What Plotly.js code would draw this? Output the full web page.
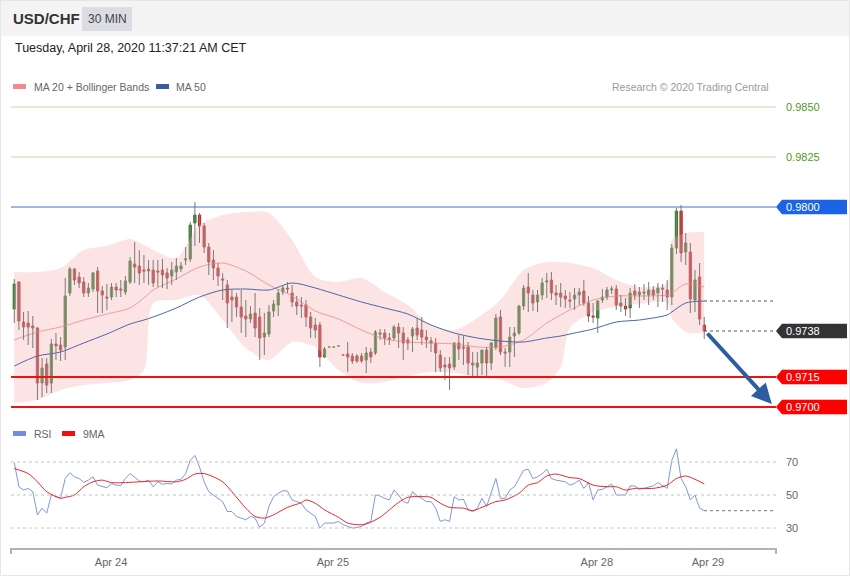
<!DOCTYPE html>
<html><head><meta charset="utf-8">
<script src="https://cdn.plot.ly/plotly-3.0.1.min.js"></script>
<style>html,body{margin:0;padding:0;background:#fff;}#chart{width:850px;height:576px;}</style>
</head><body><div id="chart"></div>
<script>
// ---- Price data (USD/CHF, 30 min candles) ----
const open=[.9749,.97625,.97425,.9742,.97405,.97395,.9712,.97215,.9712,.97315,
.9731,.9730,.9757,.9769,.9765,.97625,.9757,.9759,.9768,.9758,
.9755,.9755,.9760,.9759,.97575,.97625,.97715,.97705,.97685,.9768,
.97685,.9768,.97685,.9767,.97655,.97675,.9769,.97735,.9774,.9792,
.9796,.97905,.9780,.97735,.97695,.9764,.9761,.9755,.9755,.9750,
.97455,.9744,.9747,.9745,.9735,.97365,.9748,.9751,.97575,.97595,
.9757,.97525,.9751,.9751,.9745,.9741,.9741,.9725,.9730,.9730,
.97305,.9726,.97265,.97255,.97255,.97255,.97235,.97275,.9727,.9737,
.9737,.97345,.97345,.9740,.9737,.97335,.97355,.97395,.97385,.9735,
.9733,.9732,.9726,.9721,.97215,.9720,.9732,.9730,.9730,.9722,
.9720,.9722,.97285,.9722,.9730,.9745,.97275,.97275,.97355,.9737,
.97505,.9760,.9756,.97525,.9756,.97625,.97635,.9757,.9757,.97555,
.97535,.9754,.9756,.9758,.9752,.97455,.97445,.97535,.9755,.97585,
.9759,.9752,.97505,.97495,.9758,.9756,.97575,.9756,.97585,.9757,
.97595,.97585,.9755,.97795,.9798,.97775,.97775,.97535,.9765,.9741];
const high=[.9764,.9763,.97475,.9748,.97455,.9740,.97245,.97245,.9734,.9737,
.9735,.97645,.9770,.97695,.97675,.9765,.9762,.97675,.9770,.97605,
.97615,.9762,.9762,.97635,.97655,.9775,.97825,.97785,.9776,.97735,
.97735,.97735,.9774,.97695,.97725,.97745,.97725,.9780,.97925,.98025,
.9797,.9792,.9782,.97785,.9772,.9767,.97635,.97585,.9757,.97585,
.97535,.97505,.9757,.97495,.9747,.9751,.97535,.9759,.9761,.97625,
.9761,.97555,.9755,.97535,.97475,.97445,.97425,.9730,.9730,.9730,
.97305,.9726,.97325,.9727,.97265,.9727,.9730,.97295,.97385,.9739,
.9739,.9737,.9741,.9742,.9740,.9735,.9740,.97445,.9745,.97385,
.9735,.97345,.97285,.9725,.9725,.97325,.9736,.97355,.97325,.97275,
.97275,.97285,.9730,.97325,.97465,.97485,.97295,.9740,.9740,.9751,
.9761,.9767,.97585,.97585,.97645,.9767,.97675,.9761,.9762,.97585,
.97575,.97595,.97595,.97635,.97555,.9752,.97535,.9759,.9760,.97605,
.9761,.9756,.97545,.97595,.97615,.9760,.97615,.97625,.97605,.9762,
.97615,.97635,.97815,.97995,.9801,.9787,.9782,.97685,.9772,.9745];
const low=[.9742,.97385,.97335,.9731,.97295,.97035,.9705,.9707,.9707,.97235,
.9723,.97235,.97555,.9761,.97595,.9755,.9755,.97575,.9747,.9747,
.97485,.97535,.9755,.9755,.9756,.97615,.9762,.9761,.9762,.9761,
.9760,.9760,.97595,.9759,.9761,.97635,.97675,.9771,.97725,.97805,
.9782,.9777,.9766,.97635,.97605,.97535,.97395,.97425,.9745,.9737,
.9735,.9742,.9735,.97235,.9726,.9735,.9745,.97455,.9756,.9757,
.9750,.9746,.97445,.9740,.97345,.97345,.9720,.97245,.9730,.9730,
.97305,.9726,.97175,.97215,.9722,.9722,.9717,.9722,.9726,.97335,
.9731,.9731,.97335,.97295,.97235,.97285,.97275,.97335,.9731,.97295,
.97275,.97175,.97175,.97135,.97085,.97185,.97235,.9721,.9716,.97145,
.97145,.9716,.97155,.97185,.97285,.9726,.9720,.9720,.9725,.9736,
.97485,.97475,.9748,.97475,.97535,.97545,.97535,.9751,.9750,.97495,
.97495,.97485,.9751,.97505,.97425,.9742,.9737,.9752,.97535,.97565,
.97485,.97475,.97455,.97445,.97535,.97495,.97535,.9751,.97535,.9750,
.97525,.97485,.9751,.97765,.97725,.9771,.9747,.97475,.9741,.9734];
const close=[.97615,.9743,.9740,.9740,.97395,.9712,.97195,.9711,.97315,.97305,
.97285,.97555,.9769,.97635,.9762,.9757,.97595,.9767,.9758,.9756,
.97545,.9760,.97585,.97585,.9763,.9773,.9770,.9767,.9768,.9769,
.9762,.97675,.9766,.97645,.97685,.97705,.97705,.9774,.9791,.9796,
.97905,.9780,.97725,.97695,.97655,.97635,.9752,.97535,.9750,.9745,
.9744,.97465,.97395,.97345,.9737,.97475,.97515,.9757,.97595,.9759,
.97525,.97505,.97505,.9745,.97395,.97385,.9725,.9729,.9730,.9730,
.97305,.9726,.9725,.9723,.9723,.9723,.9727,.9725,.97375,.97365,
.97345,.9734,.9740,.9737,.9732,.9732,.9739,.9736,.9735,.97335,
.9732,.9727,.97195,.9720,.97195,.9732,.9729,.97295,.9722,.9721,
.9722,.97285,.9722,.9732,.97445,.97275,.9727,.9735,.9737,.97505,
.97595,.9757,.9752,.9756,.9762,.9763,.9757,.9756,.9755,.9754,
.9753,.9756,.97575,.9752,.97455,.9745,.9753,.9755,.97585,.9759,
.9751,.97505,.9749,.9757,.9756,.97575,.9757,.97585,.9756,.97595,
.9759,.9755,.97795,.9798,.9777,.9782,.9754,.97635,.9744,.9738];

const bandIdx=[0,5,10,15,20,25,28,30,35,40,45,50,55,60,65,70,75,80,85,90,95,100,105,110,115,118,120,125,130,135,141,142,145,149];
const bbUpper=[.97675,.97675,.97695,.97785,.97805,.9784,.9781,.97785,.97745,.9791,.9796,.97975,.9797,.97835,.9765,.97625,.97645,.97575,.9751,.9741,.97385,.97445,.97535,.97685,.97725,.97725,.9772,.97695,.97635,.9760,.9762,.97835,.9787,.97875];
const bbLower=[.9702,.97035,.97085,.9711,.9712,.97135,.97185,.9752,.97535,.9756,.97435,.97295,.97235,.97325,.9730,.97185,.9712,.97125,.97155,.97175,.9717,.9715,.97135,.97095,.9712,.9720,.97395,.97475,.9750,.97515,.9752,.97445,.97375,.9737];
const ma20=[.97335,.97375,.974,.97435,.97465,.97495,.97545,.97585,.9764,.9770,.9772,.9768,.9761,.97555,.9748,.9744,.97385,.9734,.97325,.9732,.97315,.9730,.9730,.97335,.9742,.9746,.97485,.97535,.97555,.97555,.9756,.9757,.97615,.9760];
const ma50=[.97205,.97255,.97275,.9732,.97365,.97415,.97435,.9745,.97495,.9755,.97585,.9759,.97585,.9762,.97595,.9756,.97525,.97495,.97465,.9741,.9737,.97345,.9733,.97325,.97345,.97355,.97365,.9739,.97425,.97435,.9746,.97475,.9752,.9753];

const rsi=[69.6,55,53,54,52,38,42,39,50,49.4,48,60,63.5,61,60,57.7,59,61,56,55,
54.4,57,56,55.7,60,63,61,58.5,58,59,55,58,56.5,57,56.7,59,59.5,63,71,74,
67,58,52,50,48,46,40,40,37,36,35,37,36,30.4,33,43,49,51,52.6,52.4,
47,46,45,41,39,37,30,33,33,33,34,32,31,30,30.3,31,33,34,50,49.4,
48,47,53,50,46,45,52,49.5,48,46,46,42,34,35,34,49,47,47.4,41,40,
42,48,43,52,60,48,48,53,55,60,65,65.6,60,61,63,65.6,60,59,58.5,58,
56,57,59,54,57.5,47,53,53.4,55,56.7,50,50,50,55.5,55.5,53.4,54,55,55.5,57.5,
56,54,71,78,60,55,47,50,42,40.5];
const rsiMaIdx=[0,3,5,7,10,11,13,15,17,19,21,24,27,31,35,37,39,41,43,45,47,50,52,54,56,59,62,63,65,67,70,72,74,76,79,81,83,85,88,90,92,94,97,99,101,104,106,109,111,113,115,117,120,122,125,128,130,132,134,138,141,143,145,147,149];
const rsiMa=[66,63,58,52,48,48.6,50,55,58,59,57.5,57.5,58,58.5,58,59.5,62.7,63,61,58,52,42,37,36,38,42.5,45.4,47,45,41,36.5,33,32,32.4,36.5,41,45.5,48.6,49,48.6,45,42.5,42,40.5,42.5,46,47,51,56,57.5,61.5,62.7,60.5,60,56,55,55,53,54,54,56,60,61.5,59.5,56.7];

const levels=[0.9850,0.9825,0.9800,0.9738,0.9715,0.9700];
const tickLabels=['Apr 24','Apr 25','Apr 28','Apr 29'];
const tickIdx=[20.9,68.8,125.8,149.8];
const rsiLevels=[70,50,30];
const target={fromIdx:149.4,fromPrice:0.97375,toIdx:163.6,toPrice:0.97015};

// ---- build ----
const N=close.length;
const idx=close.map((_,i)=>i);
const wx=[],wy=[];
for(let i=0;i<N;i++){wx.push(i,i,null);wy.push(low[i],high[i],null);}
const bHi=open.map((o,i)=>Math.max(o,close[i]));
const bLo=open.map((o,i)=>Math.min(o,close[i]));

const P=x=>x/850, Q=y=>1-y/576;
const X0=P(11), X1=P(776);
const FONT='Liberation Sans, Arial, sans-serif';
const GREEN='#2f7d22', RED='#d7191c';

const traces=[
 {x:bandIdx,y:bbUpper,type:'scatter',mode:'lines',line:{width:0,shape:'spline',smoothing:0.8},hoverinfo:'skip',xaxis:'x',yaxis:'y'},
 {x:bandIdx,y:bbLower,type:'scatter',mode:'lines',line:{width:0,shape:'spline',smoothing:0.8},fill:'tonexty',fillcolor:'rgba(250,190,190,0.42)',hoverinfo:'skip',xaxis:'x',yaxis:'y'},
 {x:bandIdx,y:ma20,type:'scatter',mode:'lines',line:{width:1,color:'#f29a9a',shape:'spline',smoothing:0.8},hoverinfo:'skip',xaxis:'x',yaxis:'y'},
 {x:bandIdx,y:ma50,type:'scatter',mode:'lines',line:{width:1,color:'#4a66a8',shape:'spline',smoothing:0.8},hoverinfo:'skip',xaxis:'x',yaxis:'y'},
 {x:wx,y:wy,type:'scatter',mode:'lines',line:{width:1,color:'#7a7a7a'},hoverinfo:'skip',xaxis:'x',yaxis:'y',connectgaps:false},
 {x:idx,open:open,high:bHi,low:bLo,close:close,type:'candlestick',whiskerwidth:0,
  increasing:{line:{color:GREEN,width:1},fillcolor:GREEN},
  decreasing:{line:{color:RED,width:1},fillcolor:RED},hoverinfo:'skip',xaxis:'x',yaxis:'y'},
 {x:idx,y:rsi,type:'scatter',mode:'lines',line:{width:1,color:'#7d98dc'},hoverinfo:'skip',xaxis:'x',yaxis:'y2'},
 {x:rsiMaIdx,y:rsiMa,type:'scatter',mode:'lines',line:{width:1,color:'#e8262b',shape:'spline',smoothing:0.8},hoverinfo:'skip',xaxis:'x',yaxis:'y2'}
];

const shapes=[];
const ann=[];
// header
shapes.push({type:'rect',xref:'paper',yref:'paper',x0:0,x1:1,y0:Q(36),y1:1,fillcolor:'#f4f4f4',line:{width:0},layer:'below'});
shapes.push({type:'rect',xref:'paper',yref:'paper',x0:P(82),x1:P(132),y0:Q(31),y1:Q(7),fillcolor:'#dcdde2',line:{width:0},layer:'below'});
shapes.push({type:'rect',xref:'paper',yref:'paper',x0:P(0.5),x1:P(849.5),y0:Q(575.5),y1:Q(0.5),line:{width:1,color:'#e6e6e6'},layer:'below'});
ann.push({xref:'paper',yref:'paper',x:P(11),y:Q(18),xanchor:'left',yanchor:'middle',text:'<b>USD/CHF</b>',showarrow:false,font:{size:15,color:'#333',family:FONT}});
ann.push({xref:'paper',yref:'paper',x:P(107),y:Q(19),xanchor:'center',yanchor:'middle',text:'30 MIN',showarrow:false,font:{size:12,color:'#444',family:FONT}});
ann.push({xref:'paper',yref:'paper',x:P(13),y:Q(48),xanchor:'left',yanchor:'middle',text:'Tuesday, April 28, 2020 11:37:21 AM CET',showarrow:false,font:{size:12.5,color:'#222',family:FONT}});
// legends
shapes.push({type:'rect',xref:'paper',yref:'paper',x0:P(13),x1:P(26),y0:Q(89),y1:Q(84),fillcolor:'#f28a8a',line:{width:0}});
shapes.push({type:'rect',xref:'paper',yref:'paper',x0:P(156),x1:P(169),y0:Q(89),y1:Q(84),fillcolor:'#3a5ca0',line:{width:0}});
ann.push({xref:'paper',yref:'paper',x:P(32),y:Q(86.5),xanchor:'left',yanchor:'middle',text:'MA 20 + Bollinger Bands',showarrow:false,font:{size:10.5,color:'#666',family:FONT}});
ann.push({xref:'paper',yref:'paper',x:P(174),y:Q(86.5),xanchor:'left',yanchor:'middle',text:'MA 50',showarrow:false,font:{size:10.5,color:'#666',family:FONT}});
ann.push({xref:'paper',yref:'paper',x:P(771),y:Q(86.5),xanchor:'right',yanchor:'middle',text:'Research © 2020 Trading Central',showarrow:false,font:{size:10.5,color:'#9a9a9a',family:FONT}});
shapes.push({type:'rect',xref:'paper',yref:'paper',x0:P(13),x1:P(26),y0:Q(436),y1:Q(431),fillcolor:'#6f8fdc',line:{width:0}});
shapes.push({type:'rect',xref:'paper',yref:'paper',x0:P(62),x1:P(75),y0:Q(436),y1:Q(431),fillcolor:'#ee1111',line:{width:0}});
ann.push({xref:'paper',yref:'paper',x:P(32),y:Q(433.5),xanchor:'left',yanchor:'middle',text:'RSI',showarrow:false,font:{size:10.5,color:'#666',family:FONT}});
ann.push({xref:'paper',yref:'paper',x:P(81),y:Q(433.5),xanchor:'left',yanchor:'middle',text:'9MA',showarrow:false,font:{size:10.5,color:'#666',family:FONT}});

// price levels
const lvlStyle={0.9850:{c:'#bde0aa',w:1,box:null,t:'#4f9a22'},0.9825:{c:'#bde0aa',w:1,box:null,t:'#4f9a22'},
 0.9800:{c:'#3f72cc',w:1,box:'#1c64e6',t:'#fff'},0.9715:{c:'#ee1111',w:2,box:'#ff0000',t:'#fff'},0.9700:{c:'#ee1111',w:2,box:'#ff0000',t:'#fff'},
 0.9738:{c:'#555',w:1,box:'#333333',t:'#fff',dot:true}};
const h=0.00036;
levels.forEach(v=>{
  const s=lvlStyle[v];
  if(s.dot){
    shapes.push({type:'line',xref:'paper',yref:'y',x0:P(704),x1:X1,y0:v,y1:v,line:{color:'#555',width:1,dash:'dot'}});
  } else {
    shapes.push({type:'line',xref:'paper',yref:'y',x0:X0,x1:X1,y0:v,y1:v,line:{color:s.c,width:s.w}});
  }
  if(s.box){
    shapes.push({type:'path',xref:'paper',yref:'y',path:`M ${P(776)},${v} L ${P(782)},${v+h} L ${P(847)},${v+h} L ${P(847)},${v-h} L ${P(782)},${v-h} Z`,fillcolor:s.box,line:{width:0}});
  }
  ann.push({xref:'paper',yref:'y',x:P(784),y:v,xanchor:'left',yanchor:'middle',text:v.toFixed(4),showarrow:false,font:{size:11,color:s.t,family:FONT}});
});
// ma50 last-value dotted line
shapes.push({type:'line',xref:'paper',yref:'y',x0:P(704),x1:X1,y0:ma50[ma50.length-1],y1:ma50[ma50.length-1],line:{color:'#555',width:1,dash:'dot'}});
// RSI grid
rsiLevels.forEach(v=>{
  shapes.push({type:'line',xref:'paper',yref:'y2',x0:X0,x1:X1,y0:v,y1:v,line:{color:'#c4c4c4',width:1,dash:'dot'}});
  ann.push({xref:'paper',yref:'y2',x:P(784),y:v,xanchor:'left',yanchor:'middle',text:String(v),showarrow:false,font:{size:11,color:'#666',family:FONT}});
});
shapes.push({type:'line',xref:'paper',yref:'y2',x0:P(704),x1:X1,y0:rsi[N-1],y1:rsi[N-1],line:{color:'#777',width:1,dash:'dot'}});
// axis end ticks
[X0,X1].forEach(x=>shapes.push({type:'line',xref:'paper',yref:'paper',x0:x,x1:x,y0:Q(548),y1:Q(554),line:{color:'#b3b3b3',width:2}}));
// target arrow
ann.push({xref:'x',yref:'y',axref:'x',ayref:'y',x:target.toIdx,y:target.toPrice,ax:target.fromIdx,ay:target.fromPrice,text:'',showarrow:true,arrowhead:2,arrowsize:1,arrowwidth:4,arrowcolor:'#2d5d9f'});

const layout={
  width:850,height:576,margin:{l:0,r:0,t:0,b:0},paper_bgcolor:'#fff',plot_bgcolor:'rgba(0,0,0,0)',
  showlegend:false,font:{family:FONT},
  xaxis:{domain:[X0,X1],range:[-0.71,164.5],anchor:'y2',showgrid:false,zeroline:false,showline:true,linecolor:'#b3b3b3',linewidth:2,
    tickmode:'array',tickvals:tickIdx,ticktext:tickLabels,ticks:'',ticklabelstandoff:3,tickfont:{size:11,color:'#666',family:FONT},rangeslider:{visible:false},fixedrange:true},
  yaxis:{domain:[Q(415),Q(95)],range:[0.9696,0.9856],visible:false,showgrid:false,zeroline:false,fixedrange:true},
  yaxis2:{domain:[Q(548),Q(445)],range:[17.88,80.3],visible:false,showgrid:false,zeroline:false,fixedrange:true},
  shapes:shapes,annotations:ann
};
Plotly.newPlot('chart',traces,layout,{displayModeBar:false,staticPlot:true});
</script></body></html>
